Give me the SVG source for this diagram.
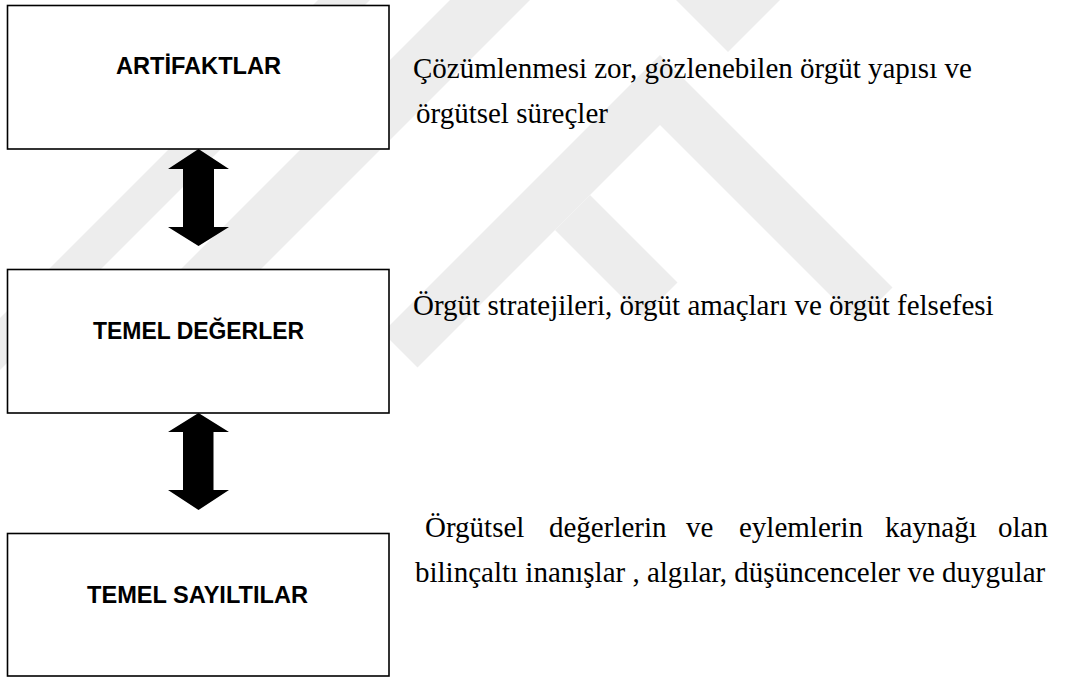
<svg xmlns="http://www.w3.org/2000/svg" width="1072" height="677" viewBox="0 0 1072 677">
<style>
.box{fill:#fff;stroke:#000;stroke-width:1.6}
.lbl{font-family:"Liberation Sans",Arial,sans-serif;font-weight:bold;font-size:23px;fill:#000;text-anchor:middle}
.desc{font-family:"Liberation Serif","Times New Roman",serif;font-size:29px;fill:#000}
.arr{fill:#000}
.wm{fill:#ededed}
</style>
<rect width="1072" height="677" fill="#fff"/>
<g id="watermark">
<polygon class="wm" points="318,0 370,0 0,370 0,318"/>
<polygon class="wm" points="616.5,-166.5 781.5,-1.5 728,52 603,-73 130,400 50,400"/>
<polygon class="wm" points="660,55 892.5,287.5 857.5,322.5 660,125 417.5,367.5 382.5,332.5"/>
<polygon class="wm" points="590,195 677.5,282.5 642.5,317.5 555,230"/>
</g>
<g id="node-artifaktlar">
<rect class="box" x="7.5" y="5.5" width="381.5" height="143.5"/>
<text class="lbl" x="198.5" y="74" textLength="165" lengthAdjust="spacingAndGlyphs">ARTİFAKTLAR</text>
</g>
<g id="node-temel-degerler">
<rect class="box" x="7.5" y="269.5" width="381.5" height="143.5"/>
<text class="lbl" x="198.5" y="339" textLength="211" lengthAdjust="spacingAndGlyphs">TEMEL DEĞERLER</text>
</g>
<g id="node-temel-sayiltilar">
<rect class="box" x="7.5" y="533.5" width="381.5" height="142.5"/>
<text class="lbl" x="197.5" y="603" textLength="221" lengthAdjust="spacingAndGlyphs">TEMEL SAYILTILAR</text>
</g>
<g id="desc-artifaktlar">
<text class="desc" x="413" y="78">Çözümlenmesi zor, gözlenebilen örgüt yapısı ve</text>
<text class="desc" x="416" y="123">örgütsel süreçler</text>
</g>
<g id="desc-temel-degerler">
<text class="desc" x="413" y="315">Örgüt stratejileri, örgüt amaçları ve örgüt felsefesi</text>
</g>
<g id="desc-temel-sayiltilar">
<text class="desc" y="537"><tspan x="425">Örgütsel</tspan><tspan x="549">değerlerin</tspan><tspan x="686">ve</tspan><tspan x="739">eylemlerin</tspan><tspan x="885">kaynağı</tspan><tspan x="998">olan</tspan></text>
<text class="desc" x="415" y="582">bilinçaltı inanışlar , algılar, düşüncenceler ve duygular</text>
</g>
<g id="connectors">
<path class="arr" d="M198.5,149 L229,169 L214,169 L214,227 L229,227 L198.5,246 L168,227 L183,227 L183,169 L168,169 Z"/>
<path class="arr" d="M198.5,413 L229,432 L213.5,432 L213.5,490 L229,490 L198.5,510 L168,490 L183,490 L183,432 L168,432 Z"/>
</g>
</svg>
